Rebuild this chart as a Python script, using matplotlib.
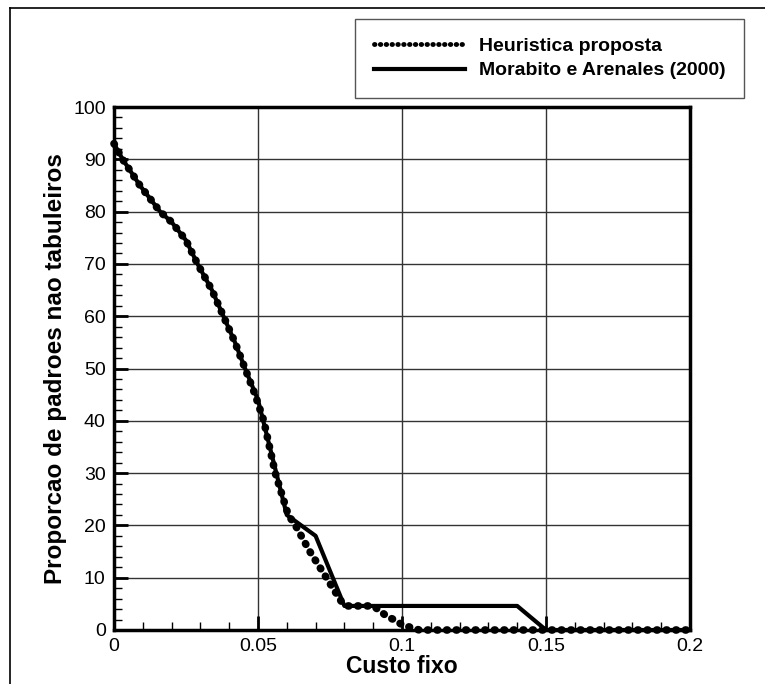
import matplotlib
matplotlib.use("Agg")
import matplotlib.pyplot as plt
from matplotlib.lines import Line2D
from matplotlib.ticker import MultipleLocator

plt.rcParams['font.family'] = ['Liberation Sans', 'DejaVu Sans']

# Heuristica proposta (dotted curve)
heur_x = [0.000, 0.003, 0.009, 0.016, 0.020, 0.025, 0.029, 0.034, 0.038, 0.042,
          0.0455, 0.049, 0.052, 0.056, 0.0605, 0.063, 0.065, 0.068, 0.0726, 0.076,
          0.079, 0.081, 0.090, 0.092, 0.095, 0.0976, 0.100, 0.103, 0.106, 0.200]
heur_y = [93, 90, 85, 80, 78, 74.5, 70, 65, 60, 55,
          50, 45, 40, 30, 22, 20, 18, 15, 11, 8,
          5.4, 4.6, 4.6, 3.8, 2.5, 1.9, 1.0, 0.5, 0, 0]

# Morabito e Arenales (2000) (solid line)
mor_x = [0.000, 0.003, 0.009, 0.016, 0.020, 0.025, 0.029, 0.034, 0.038, 0.042,
         0.0455, 0.050, 0.060, 0.070, 0.080, 0.140, 0.150, 0.200]
mor_y = [93, 90, 85, 80, 78, 74.5, 70, 65, 60, 55,
         50, 44, 22, 18, 4.6, 4.6, 0, 0]

x_ticks = [0, 0.05, 0.1, 0.15, 0.2]
x_tick_labels = ['0', '0.05', '0.1', '0.15', '0.2']
y_ticks = [0, 10, 20, 30, 40, 50, 60, 70, 80, 90, 100]

fig = plt.figure(figsize=(7.65, 6.84), dpi=100)
ax = fig.add_axes([114 / 765, 1 - 630 / 684, 576 / 765, 523 / 684])

ax.plot(mor_x, mor_y, color='black', lw=3, solid_capstyle='butt', zorder=3,
        clip_on=False)
ax.plot(heur_x, heur_y, color='black', lw=5.5, dashes=(0.1, 1.15),
        dash_capstyle='round', zorder=4, clip_on=False)

ax.set_xlim(0, 0.2)
ax.set_ylim(0, 100)
ax.set_xticks(x_ticks)
ax.set_xticklabels(x_tick_labels)
ax.set_yticks(y_ticks)
ax.xaxis.set_minor_locator(MultipleLocator(0.01))
ax.yaxis.set_minor_locator(MultipleLocator(2))

ax.tick_params(which='major', direction='in', length=10, width=2, labelsize=14,
               pad=6, top=False, right=False)
ax.tick_params(which='minor', direction='in', length=6, width=1,
               top=False, right=False)
ax.grid(True, which='major', color='#333333', lw=1)
ax.set_axisbelow(True)
for s in ax.spines.values():
    s.set_linewidth(2.5)
    s.set_zorder(5)

ax.set_xlabel('Custo fixo', fontsize=16.5, fontweight='bold', labelpad=0)
ax.set_ylabel('Proporcao de padroes nao tabuleiros', fontsize=17.5,
              fontweight='bold', labelpad=4)

handles = [
    Line2D([], [], color='black', lw=3.5, dashes=(0.1, 1.1),
           dash_capstyle='round'),
    Line2D([], [], color='black', lw=3),
]
leg = fig.legend(handles, ['Heuristica proposta', 'Morabito e Arenales (2000)'],
                 loc='upper right', bbox_to_anchor=(744 / 765, 1 - 19 / 684),
                 prop={'size': 14, 'weight': 'bold'}, fancybox=False,
                 edgecolor='#555555', framealpha=1, handlelength=4.7,
                 handletextpad=0.7, borderpad=0.95, labelspacing=0.35,
                 borderaxespad=0)
leg.get_frame().set_linewidth(1)

# outer frame lines
fig.add_artist(Line2D([10 / 765, 10 / 765], [0, 1 - 8 / 684], color='black', lw=1.2))
fig.add_artist(Line2D([10 / 765, 1], [1 - 8 / 684, 1 - 8 / 684], color='black', lw=1.2))

fig.savefig('out.png', dpi=100)
